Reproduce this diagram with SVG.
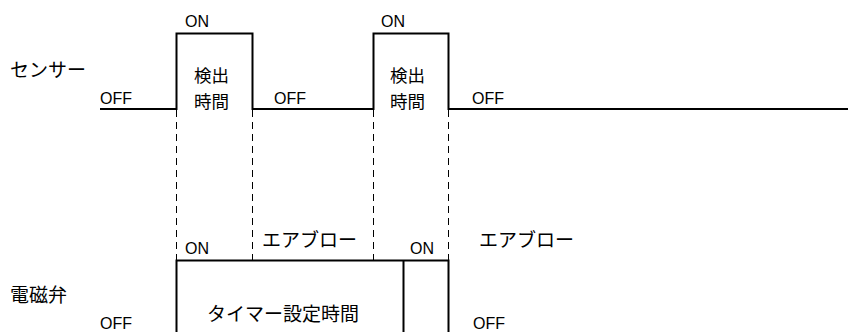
<svg xmlns="http://www.w3.org/2000/svg" width="848" height="332" viewBox="0 0 848 332">
<style>
.sig{fill:none;stroke:#000;stroke-width:2}
.dash{fill:none;stroke:#000;stroke-width:1;stroke-dasharray:7 5}
.lat{font-family:"Liberation Sans",Arial,sans-serif;font-size:16px;fill:#000}
.jp{font-family:"Noto Sans CJK JP","Liberation Sans",sans-serif;font-size:19px;fill:#000}
.jps{font-family:"Noto Sans CJK JP","Liberation Sans",sans-serif;font-size:17.5px;fill:#000}
</style>
<rect width="848" height="332" fill="#fff"/>
<g id="labels">
<text class="jp" x="10" y="77">センサー</text>
<text class="jp" x="10" y="302">電磁弁</text>
</g>
<g id="connectors">
<path class="sig" d="M100 109H176.5V33.5H252.5V109H373.5V33.5H448.5V109H848"/>
<path class="dash" d="M176.5 110V260M252.5 110V260M373.5 110V260M448.5 110V260"/>
<path class="sig" d="M176.5 340V260.5H448.5V340M403.5 260.5V340"/>
</g>
<g id="sensor-pulse1">
<text class="lat" x="185" y="27">ON</text>
<text class="jps" x="194" y="82">検出</text>
<text class="jps" x="194" y="107.5">時間</text>
<text class="lat" x="100" y="104">OFF</text>
</g>
<g id="sensor-pulse2">
<text class="lat" x="381" y="27">ON</text>
<text class="jps" x="390" y="82">検出</text>
<text class="jps" x="390" y="107.5">時間</text>
<text class="lat" x="274" y="104">OFF</text>
<text class="lat" x="472" y="104">OFF</text>
</g>
<g id="valve">
<text class="lat" x="185" y="254">ON</text>
<text class="lat" x="410" y="254">ON</text>
<text class="jp" x="262" y="247">エアブロー</text>
<text class="jp" x="479" y="247">エアブロー</text>
<text class="jp" x="207" y="321">タイマー設定時間</text>
<text class="lat" x="100" y="329">OFF</text>
<text class="lat" x="473" y="329">OFF</text>
</g>
</svg>
